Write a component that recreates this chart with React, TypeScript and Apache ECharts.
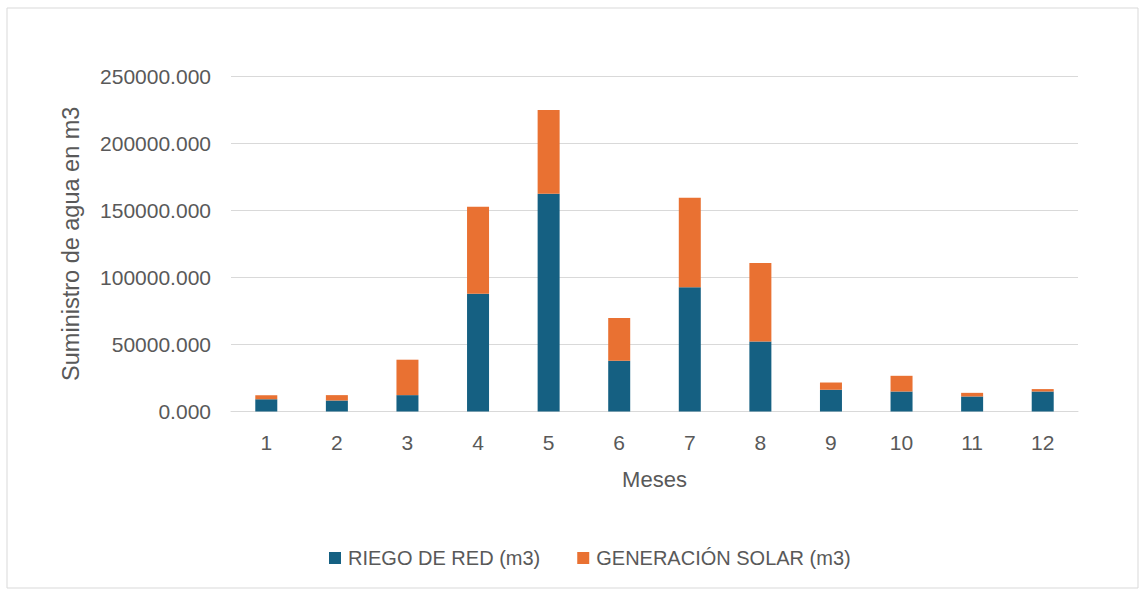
import React, { useEffect, useRef } from "react";
import * as echarts from "echarts";

const months = ["1", "2", "3", "4", "5", "6", "7", "8", "9", "10", "11", "12"];
const riegoRed = [9200, 8200, 12200, 87800, 162200, 37800, 92500, 52200, 16200, 14900, 11200, 14900];
const generacionSolar = [3000, 4000, 26400, 64700, 62400, 31900, 66700, 58500, 5400, 11700, 2700, 1800];
const seriesNames = ["RIEGO DE RED (m3)", "GENERACIÓN SOLAR (m3)"];
const colors = ["#156082", "#E97132"];

export default function App() {
  const ref = useRef<HTMLDivElement>(null);
  useEffect(() => {
    const chart = echarts.init(ref.current!, null, { renderer: "svg" });
    const font = "Liberation Sans, Arial, sans-serif";
    chart.setOption({
      animation: false,
      backgroundColor: "#ffffff",
      textStyle: { fontFamily: font },
      graphic: [
        {
          type: "rect",
          shape: { x: 7, y: 8, width: 1131, height: 580 },
          style: { fill: "none", stroke: "#d9d9d9", lineWidth: 1 },
          silent: true,
        },
      ],
      grid: { left: 231, right: 68, top: 76, bottom: 179.5, containLabel: false },
      legend: {
        top: 543,
        left: 324,
        itemWidth: 12,
        itemHeight: 12,
        itemGap: 37,
        icon: "rect",
        textStyle: { color: "#595959", fontSize: 20, fontFamily: font, padding: [0, 0, 0, 2] },
        data: seriesNames,
      },
      xAxis: {
        type: "category",
        data: months,
        name: "Meses",
        nameLocation: "middle",
        nameGap: 57,
        nameTextStyle: { color: "#595959", fontSize: 22, fontFamily: font },
        axisLine: { show: true, lineStyle: { color: "#d9d9d9", width: 1 } },
        axisTick: { show: false },
        axisLabel: { color: "#595959", fontSize: 21, margin: 20, fontFamily: font },
      },
      yAxis: {
        type: "value",
        min: 0,
        max: 250000,
        interval: 50000,
        name: "Suministro de agua en m3",
        nameLocation: "middle",
        nameGap: 148,
        nameTextStyle: { color: "#595959", fontSize: 23.5, fontFamily: font },
        axisLine: { show: false },
        axisTick: { show: false },
        splitLine: { lineStyle: { color: "#d9d9d9", width: 1 } },
        axisLabel: {
          color: "#595959",
          fontSize: 21,
          margin: 20,
          fontFamily: font,
          formatter: (v: number) => v.toFixed(3),
        },
      },
      series: [
        {
          name: seriesNames[0],
          type: "bar",
          stack: "total",
          data: riegoRed,
          barWidth: 22,
          itemStyle: { color: colors[0] },
        },
        {
          name: seriesNames[1],
          type: "bar",
          stack: "total",
          data: generacionSolar,
          barWidth: 22,
          itemStyle: { color: colors[1] },
        },
      ],
    });
    return () => chart.dispose();
  }, []);
  return (
    <div
      ref={ref}
      style={{ position: "absolute", left: 0, top: 0, width: 1146, height: 591 }}
    />
  );
}
